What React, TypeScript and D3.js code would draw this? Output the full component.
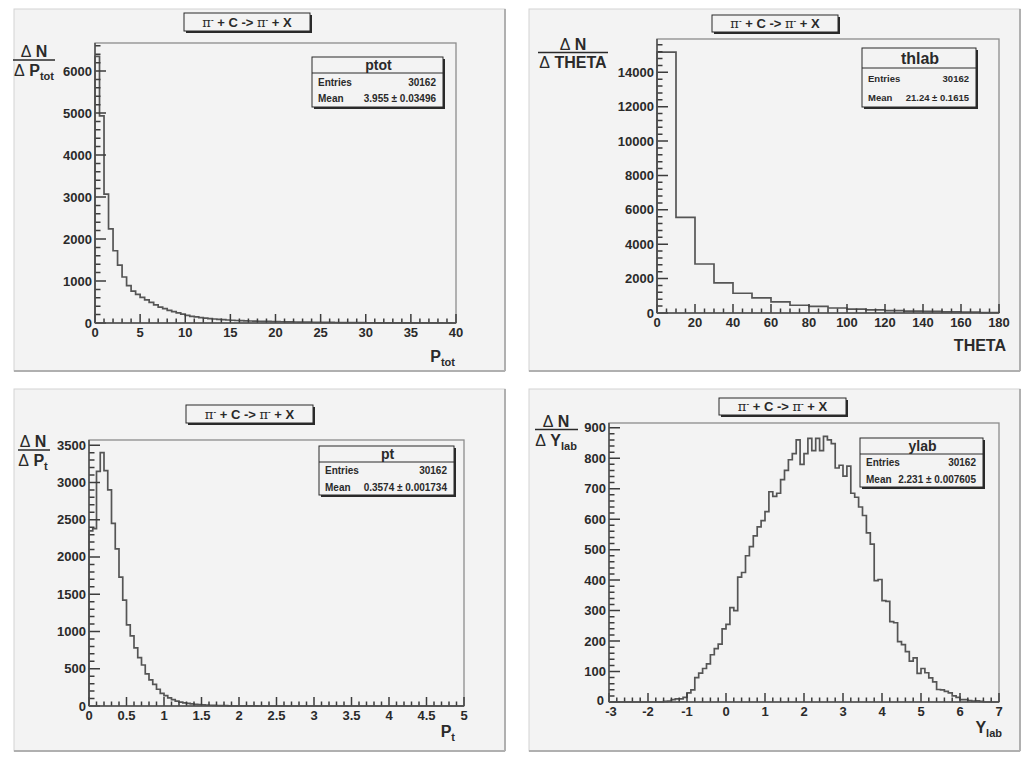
import * as d3 from "d3";

const FONT = "'Liberation Sans', Arial, Helvetica, sans-serif";
const INK = "#2a2a2a";
const PAD_FILL = "#f3f3f3";
const HIST = "#555555";
const TICK = "#3c3c3c";

const ENTRIES = "30162";

// ptot: 80 bins, 0..40
const PTOT_COUNTS = [
  6350, 4930, 3070, 2240, 1720, 1380, 1095, 890, 760, 680,
  610, 550, 490, 430, 380, 340, 300, 270, 240, 210,
  180, 160, 145, 130, 115, 105, 95, 88, 80, 72,
  66, 60, 56, 52, 48, 45, 42, 40, 37, 35,
  32, 30, 28, 26, 24, 22, 20, 19, 18, 16,
  15, 14, 13, 12, 11, 10, 9, 8, 8, 7,
  6, 6, 5, 5, 4, 4, 3, 3, 3, 2,
  2, 2, 1, 1, 1, 1, 1, 0, 1, 0,
];
const PTOT_XTICKS = [0, 5, 10, 15, 20, 25, 30, 35, 40];
const PTOT_YTICKS = [0, 1000, 2000, 3000, 4000, 5000, 6000];

// thlab: 18 bins, 0..180
const THETA_COUNTS = [
  15180, 5560, 2850, 1750, 1150, 880, 650, 450, 380, 290,
  220, 180, 140, 110, 90, 70, 50, 25,
];
const THETA_XTICKS = [0, 20, 40, 60, 80, 100, 120, 140, 160, 180];
const THETA_YTICKS = [0, 2000, 4000, 6000, 8000, 10000, 12000, 14000];

// pt: 100 bins, 0..5
const PT_COUNTS = [
  2350, 2380, 3150, 3400, 3160, 2900, 2450, 2110, 1730, 1420,
  1090, 940, 780, 650, 550, 430, 350, 290, 225, 170,
  140, 110, 85, 65, 52, 42, 35, 28, 23, 19,
  15, 12, 10, 8, 6, 5, 4, 3, 3, 2,
  2, 1, 1, 1, 1, 0, 1, 0, 0, 0,
  0, 0, 0, 0, 0, 0, 0, 0, 0, 0,
  0, 0, 0, 0, 0, 0, 0, 0, 0, 0,
  0, 0, 0, 0, 0, 0, 0, 0, 0, 0,
  0, 0, 0, 0, 0, 0, 0, 0, 0, 0,
  0, 0, 0, 0, 0, 0, 0, 0, 0, 0,
];
const PT_XTICKS = [0, 0.5, 1, 1.5, 2, 2.5, 3, 3.5, 4, 4.5, 5];
const PT_YTICKS = [0, 500, 1000, 1500, 2000, 2500, 3000, 3500];

// ylab: 100 bins, -3..7
const YLAB_COUNTS = [
  0, 0, 0, 0, 0, 0, 0, 0, 0, 0,
  0, 0, 0, 0, 2, 3, 8, 10, 10, 15,
  30, 40, 80, 95, 110, 125, 155, 175, 190, 240,
  255, 310, 300, 410, 425, 480, 510, 545, 575, 595,
  625, 690, 675, 685, 730, 760, 795, 815, 860, 780,
  815, 865, 825, 865, 825, 872, 860, 848, 768, 777,
  741, 774, 685, 672, 640, 612, 555, 518, 398, 402,
  333, 330, 264, 260, 198, 188, 165, 134, 145, 94,
  110, 96, 79, 66, 41, 40, 35, 30, 20, 15,
  8, 8, 5, 3, 4, 2, 0, 0, 0, 0,
];
const YLAB_XTICKS = [-3, -2, -1, 0, 1, 2, 3, 4, 5, 6, 7];
const YLAB_YTICKS = [0, 100, 200, 300, 400, 500, 600, 700, 800, 900];

const STAT_NAMES = ["ptot", "thlab", "pt", "ylab"];
const STAT_MEANS = ["3.955 \u00b1 0.03496", "21.24 \u00b1 0.1615", "0.3574 \u00b1 0.001734", "2.231 \u00b1 0.007605"];

// layout of each pad (pixel boxes measured on the page)
const PANELS = [
  {
    counts: PTOT_COUNTS, xDomain: [0, 40], xTicks: PTOT_XTICKS, xMinor: 1, yTicks: PTOT_YTICKS, yMinor: 200,
    pad: [14, 9, 505, 371], frame: [95, 43, 456, 323], title: [184, 13, 312, 33],
    stat: [312, 57, 445, 109, 73], headSize: 14, rowSize: 10,
    yLab: { cx: 34, num: 57, line: [13, 55, 60], den: 76, main: "P", sub: "tot" },
    xLab: { x: 455, y: 362, main: "P", sub: "tot" },
  },
  {
    counts: THETA_COUNTS, xDomain: [0, 180], xTicks: THETA_XTICKS, xMinor: 5, yTicks: THETA_YTICKS, yMinor: 400,
    pad: [529, 9, 1020, 371], frame: [657, 39, 999, 313], title: [712, 15, 840, 34],
    stat: [862, 48, 978, 109, 68], headSize: 16, rowSize: 9.5,
    yLab: { cx: 573, num: 50, line: [538, 608, 52.5], den: 68, main: "THETA", sub: "" },
    xLab: { x: 1006, y: 351, main: "THETA", sub: "" },
  },
  {
    counts: PT_COUNTS, xDomain: [0, 5], xTicks: PT_XTICKS, xMinor: 0.1, yTicks: PT_YTICKS, yMinor: 100,
    pad: [14, 389, 505, 751], frame: [89, 440, 464, 706], title: [186, 405, 315, 425],
    stat: [319, 446, 456, 497, 462], headSize: 14, rowSize: 10,
    yLab: { cx: 33, num: 447, line: [18, 50, 450], den: 466, main: "P", sub: "t" },
    xLab: { x: 455, y: 737, main: "P", sub: "t" },
  },
  {
    counts: YLAB_COUNTS, xDomain: [-3, 7], xTicks: YLAB_XTICKS, xMinor: 0.2, yTicks: YLAB_YTICKS, yMinor: 20,
    pad: [529, 389, 1020, 751], frame: [609, 423, 999, 702], title: [719, 398, 848, 417],
    stat: [860, 438, 985, 489, 454], headSize: 14, rowSize: 10,
    yLab: { cx: 556, num: 427, line: [535, 578, 429.5], den: 446, main: "Y", sub: "lab" },
    xLab: { x: 1002, y: 733, main: "Y", sub: "lab" },
  },
];

const minors = (lo: number, hi: number, step: number) =>
  d3.range(Math.ceil(lo / step - 1e-9), Math.floor(hi / step + 1e-9) + 1).map((k) => k * step);

function Pad({ p, idx }: { p: any; idx: number }) {
  const [fx0, fy0, fx1, fy1] = p.frame;
  const x = d3.scaleLinear().domain(p.xDomain).range([fx0, fx1]);
  const ymax = (d3.max(p.counts as number[]) as number) * 1.05;
  const y = d3.scaleLinear().domain([0, ymax]).range([fy1, fy0]);

  const n = p.counts.length;
  const w = (p.xDomain[1] - p.xDomain[0]) / n;
  const pts: [number, number][] = [[p.xDomain[0], 0]];
  p.counts.forEach((c: number, i: number) => {
    pts.push([p.xDomain[0] + i * w, c]);
    pts.push([p.xDomain[0] + (i + 1) * w, c]);
  });
  pts.push([p.xDomain[1], 0]);
  const line = d3.line<[number, number]>().x((d) => x(d[0])).y((d) => y(d[1]));

  // tick marks (ROOT style, pointing into the frame)
  const yMinorTicks = minors(0, ymax, p.yMinor);
  const xMinorTicks = minors(p.xDomain[0], p.xDomain[1], p.xMinor);
  const tickPath =
    yMinorTicks.map((t) => `M${fx0},${y(t)}h5.5`).join("") +
    p.yTicks.map((t: number) => `M${fx0},${y(t)}h11`).join("") +
    xMinorTicks.map((t) => `M${x(t)},${fy1}v-4.5`).join("") +
    p.xTicks.map((t: number) => `M${x(t)},${fy1}v-9`).join("");

  const [px0, py0, px1, py1] = p.pad;
  const [tx0, ty0, tx1, ty1] = p.title;
  const [sx0, sy0, sx1, sy1, sdiv] = p.stat;
  const rowH = sy1 - sdiv;
  const tcx = (tx0 + tx1) / 2;
  const tcy = (ty0 + ty1) / 2;
  const negX = p.xDomain[0] < 0;

  return (
    <g fontFamily={FONT} fill={INK}>
      {/* pad */}
      <rect x={px0} y={py0} width={px1 - px0} height={py1 - py0} fill={PAD_FILL} stroke="#d4d4d4" strokeWidth={1} />
      <line x1={px1} y1={py0} x2={px1} y2={py1} stroke="#b0b0b0" strokeWidth={2} />
      <line x1={px0} y1={py1} x2={px1} y2={py1} stroke="#b0b0b0" strokeWidth={2} />

      {/* frame */}
      <rect x={fx0} y={fy0} width={fx1 - fx0} height={fy1 - fy0} fill="none" stroke="#8c8c8c" strokeWidth={1.3} />

      {/* histogram */}
      <path d={line(pts) || ""} fill="none" stroke={HIST} strokeWidth={1.7} />

      <path d={tickPath} fill="none" stroke={TICK} strokeWidth={1.5} />

      {p.yTicks.map((t: number) => (
        <text
          key={"y" + t}
          x={fx0 - (t === 0 && negX ? 5 : 3)}
          y={y(t) + (t === 0 && negX ? 2.5 : 4.5)}
          textAnchor="end"
          fontSize={13}
          fontWeight="bold"
        >
          {String(t)}
        </text>
      ))}
      {p.xTicks.map((t: number) => (
        <text key={"x" + t} x={x(t) + (t === p.xDomain[0] && negX ? 2 : 0)} y={fy1 + 14} textAnchor="middle" fontSize={13} fontWeight="bold">
          {String(t)}
        </text>
      ))}

      <line x1={fx0} y1={fy0} x2={fx0} y2={fy1} stroke="#505050" strokeWidth={1.5} />
      <line x1={fx0} y1={fy1} x2={fx1} y2={fy1} stroke="#505050" strokeWidth={1.5} />

      {/* title box */}
      <rect x={tx0 + 2} y={ty0 + 2} width={tx1 - tx0 - 2} height={ty1 - ty0 - 2} fill={INK} />
      <rect x={tx0} y={ty0} width={tx1 - tx0 - 2} height={ty1 - ty0 - 2} fill={PAD_FILL} stroke={INK} strokeWidth={1} />
      <text x={tcx - 1} y={tcy + 3.5} textAnchor="middle" fontSize={13} fontWeight="bold">
        <tspan fontFamily="'DejaVu Serif', serif" fontWeight="normal">{"\u03c0"}</tspan>
        <tspan fontSize={8} dy={-5}>-</tspan>
        <tspan dy={5}>{" + C -> "}</tspan>
        <tspan fontFamily="'DejaVu Serif', serif" fontWeight="normal">{"\u03c0"}</tspan>
        <tspan fontSize={8} dy={-5}>-</tspan>
        <tspan dy={5}>{" + X"}</tspan>
      </text>

      {/* stat box */}
      <rect x={sx0 + 2} y={sy0 + 2} width={sx1 - sx0 - 2} height={sy1 - sy0 - 2} fill={INK} />
      <rect x={sx0} y={sy0} width={sx1 - sx0 - 2} height={sy1 - sy0 - 2} fill={PAD_FILL} stroke={INK} strokeWidth={1} />
      <line x1={sx0} x2={sx1 - 2} y1={sdiv} y2={sdiv} stroke={INK} strokeWidth={1} />
      <text x={(sx0 + sx1) / 2} y={(sy0 + sdiv) / 2 + p.headSize * 0.36} textAnchor="middle" fontSize={p.headSize} fontWeight="bold">
        {STAT_NAMES[idx]}
      </text>
      <text x={sx0 + 6} y={sdiv + rowH * 0.25 + 3.5} fontSize={p.rowSize} fontWeight="bold">Entries</text>
      <text x={sx1 - 9} y={sdiv + rowH * 0.25 + 3.5} textAnchor="end" fontSize={p.rowSize} fontWeight="bold">{ENTRIES}</text>
      <text x={sx0 + 6} y={sdiv + rowH * 0.72 + 3.5} fontSize={p.rowSize} fontWeight="bold">Mean</text>
      <text x={sx1 - 9} y={sdiv + rowH * 0.72 + 3.5} textAnchor="end" fontSize={p.rowSize} fontWeight="bold">{STAT_MEANS[idx]}</text>

      {/* y title as fraction */}
      <text x={p.yLab.cx} y={p.yLab.num} textAnchor="middle" fontSize={16} fontWeight="bold">
        <tspan fontWeight="normal">{"\u0394"}</tspan>{" N"}
      </text>
      <line x1={p.yLab.line[0]} x2={p.yLab.line[1]} y1={p.yLab.line[2]} y2={p.yLab.line[2]} stroke={INK} strokeWidth={1.5} />
      <text x={p.yLab.cx} y={p.yLab.den} textAnchor="middle" fontSize={16} fontWeight="bold">
        <tspan fontWeight="normal">{"\u0394"}</tspan>{" " + p.yLab.main}
        {p.yLab.sub ? <tspan fontSize={11} dy={4}>{p.yLab.sub}</tspan> : null}
      </text>

      {/* x title */}
      <text x={p.xLab.x} y={p.xLab.y} textAnchor="end" fontSize={16} fontWeight="bold">
        {p.xLab.main}
        {p.xLab.sub ? <tspan fontSize={11} dy={4}>{p.xLab.sub}</tspan> : null}
      </text>
    </g>
  );
}

export default function App() {
  return (
    <svg
      width={1030}
      height={758}
      style={{ position: "absolute", left: 0, top: 0, background: "#ffffff" }}
    >
      {PANELS.map((p, i) => (
        <Pad key={i} p={p} idx={i} />
      ))}
    </svg>
  );
}
